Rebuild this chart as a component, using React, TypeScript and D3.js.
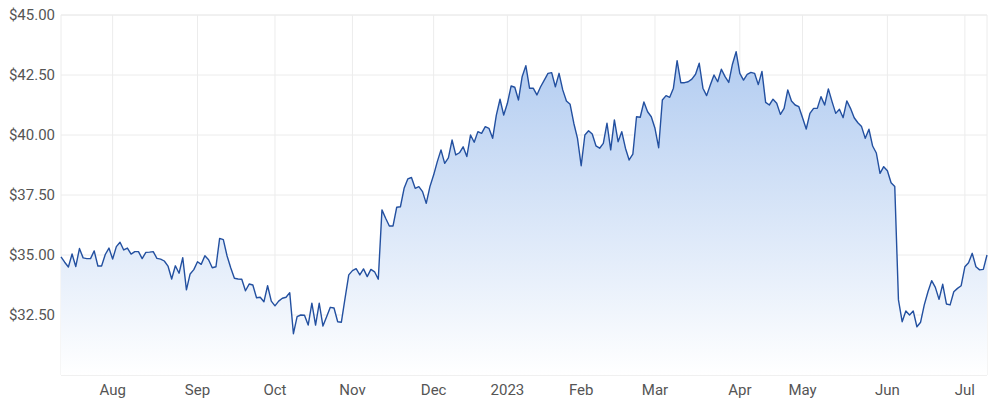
import React, { useEffect, useRef } from "react";
import * as d3 from "d3";

// daily closing prices, one per trading day (mid Jul 2022 - Jul 2023)
const prices: number[] = [
	34.92, 34.7, 34.5, 35.04, 34.52, 35.27, 34.88, 34.85, 34.85, 35.17,
	34.54, 34.54, 35.02, 35.29, 34.83, 35.35, 35.53, 35.21, 35.29, 35.04,
	35.14, 35.14, 34.85, 35.11, 35.12, 35.14, 34.86, 34.83, 34.75, 34.54,
	34.0, 34.55, 34.24, 34.89, 33.55, 34.21, 34.39, 34.72, 34.61, 34.97,
	34.8, 34.47, 34.51, 35.69, 35.64, 34.97, 34.47, 34.03, 34.0, 33.99,
	33.51, 33.79, 33.75, 33.22, 33.24, 33.05, 33.72, 33.08, 32.88, 33.08,
	33.2, 33.24, 33.43, 31.72, 32.43, 32.5, 32.49, 32.08, 32.99, 32.08,
	32.99, 32.04, 32.43, 32.82, 32.79, 32.22, 32.2, 33.2, 34.17, 34.35,
	34.43, 34.17, 34.42, 34.1, 34.4, 34.3, 33.99, 36.88, 36.53, 36.21,
	36.21, 36.99, 37.01, 37.78, 38.17, 38.23, 37.78, 37.85, 37.64, 37.15,
	37.85, 38.33, 38.89, 39.38, 38.82, 39.05, 39.79, 39.17, 39.26, 39.51,
	39.1, 40.0, 39.7, 40.14, 40.07, 40.35, 40.28, 39.86, 40.83, 41.49,
	40.83, 41.32, 42.04, 41.99, 41.46, 42.43, 42.89, 41.95, 41.95, 41.67,
	42.01, 42.29, 42.57, 42.6, 42.01, 42.57, 41.88, 41.42, 41.28, 40.49,
	39.86, 38.72, 40.0, 40.18, 40.04, 39.55, 39.45, 39.65, 40.49, 39.38,
	40.63, 39.72, 40.14, 39.45, 38.96, 39.2, 40.76, 40.74, 41.38, 40.97,
	40.76, 40.28, 39.47, 41.46, 41.64, 41.57, 41.95, 43.1, 42.18, 42.18,
	42.22, 42.33, 42.53, 42.99, 41.95, 41.64, 42.08, 42.5, 42.22, 42.74,
	42.43, 42.19, 42.95, 43.47, 42.57, 42.29, 42.53, 42.61, 42.57, 42.1,
	42.65, 41.36, 41.25, 41.49, 41.32, 40.86, 41.11, 41.88, 41.42, 41.25,
	41.18, 40.72, 40.25, 40.9, 41.11, 41.11, 41.6, 41.25, 41.92, 41.39,
	40.9, 41.07, 40.72, 41.42, 41.11, 40.72, 40.51, 40.35, 39.86, 40.24,
	39.54, 39.25, 38.4, 38.68, 38.51, 38.01, 37.85, 33.13, 32.22, 32.67,
	32.5, 32.67, 32.01, 32.2, 32.92, 33.47, 33.93, 33.65, 33.15, 33.78,
	32.96, 32.92, 33.47, 33.61, 33.72, 34.51, 34.68, 35.07, 34.51, 34.38,
	34.4, 35.0,
];

// first trading day of each month (index into prices)
const monthLabels = ["Aug", "Sep", "Oct", "Nov", "Dec", "2023", "Feb", "Mar", "Apr", "May", "Jun", "Jul"];
const monthIndex = [14, 37, 58, 79, 101, 121, 141, 161, 184, 201, 224, 245];

const yTicks = [32.5, 35, 37.5, 40, 42.5, 45];

export default function App() {
	const svgRef = useRef<SVGSVGElement | null>(null);

	useEffect(() => {
		if (!svgRef.current) return;

		const width = 1000;
		const height = 408;
		const margin = { top: 15, right: 13, bottom: 33, left: 61 };
		const font = "Roboto, 'Helvetica Neue', Arial, sans-serif";
		const gridColor = "#ececec";

		const x = d3
			.scaleLinear()
			.domain([0, prices.length - 1])
			.range([margin.left, width - margin.right]);
		const y = d3
			.scaleLinear()
			.domain([30, 45])
			.range([height - margin.bottom, margin.top]);

		const svg = d3.select(svgRef.current);
		svg.selectAll("*").remove();
		svg.attr("viewBox", `0 0 ${width} ${height}`);

		// gradient for the area fill, fixed to the plot area
		const grad = svg
			.append("defs")
			.append("linearGradient")
			.attr("id", "areaFill")
			.attr("gradientUnits", "userSpaceOnUse")
			.attr("x1", 0)
			.attr("x2", 0)
			.attr("y1", y(45))
			.attr("y2", y(30));
		grad.append("stop").attr("offset", "0%").attr("stop-color", "#a9c6ef");
		grad.append("stop").attr("offset", "100%").attr("stop-color", "#ffffff");

		// grid
		const grid = svg.append("g");
		grid
			.selectAll("line.h")
			.data([30, ...yTicks])
			.enter()
			.append("line")
			.attr("x1", margin.left)
			.attr("x2", width - margin.right)
			.attr("y1", (d) => y(d))
			.attr("y2", (d) => y(d))
			.attr("stroke", (d) => (d === 30 || d === 45 ? "#e2e2e2" : gridColor))
			.attr("stroke-width", 1);
		grid
			.selectAll("line.v")
			.data([0, ...monthIndex, prices.length - 1])
			.enter()
			.append("line")
			.attr("x1", (d) => x(d))
			.attr("x2", (d) => x(d))
			.attr("y1", y(45))
			.attr("y2", y(30))
			.attr("stroke", gridColor)
			.attr("stroke-width", 1);

		// area + line
		const area = d3
			.area<number>()
			.x((_, i) => x(i))
			.y0(y(30))
			.y1((d) => y(d));
		const line = d3
			.line<number>()
			.x((_, i) => x(i))
			.y((d) => y(d));

		svg.append("path").datum(prices).attr("d", area).attr("fill", "url(#areaFill)");
		svg
			.append("path")
			.datum(prices)
			.attr("d", line)
			.attr("fill", "none")
			.attr("stroke", "#2350a0")
			.attr("stroke-width", 1.4)
			.attr("stroke-linejoin", "round");

		// y labels
		svg
			.append("g")
			.selectAll("text")
			.data(yTicks)
			.enter()
			.append("text")
			.attr("x", 55)
			.attr("y", (d) => y(d))
			.attr("dy", "0.35em")
			.attr("text-anchor", "end")
			.attr("font-family", font)
			.attr("font-size", 15)
			.attr("fill", "#555")
			.text((d) => d3.format("$.2f")(d));

		// x labels
		svg
			.append("g")
			.selectAll("text")
			.data(monthIndex)
			.enter()
			.append("text")
			.attr("x", (d) => x(d))
			.attr("y", 395)
			.attr("text-anchor", "middle")
			.attr("font-family", font)
			.attr("font-size", 15)
			.attr("fill", "#555")
			.text((_, i) => monthLabels[i]);
	}, []);

	return (
		<div style={{ position: "absolute", left: 0, top: 0 }}>
			<svg ref={svgRef} width={1000} height={408} style={{ display: "block" }} />
		</div>
	);
}
